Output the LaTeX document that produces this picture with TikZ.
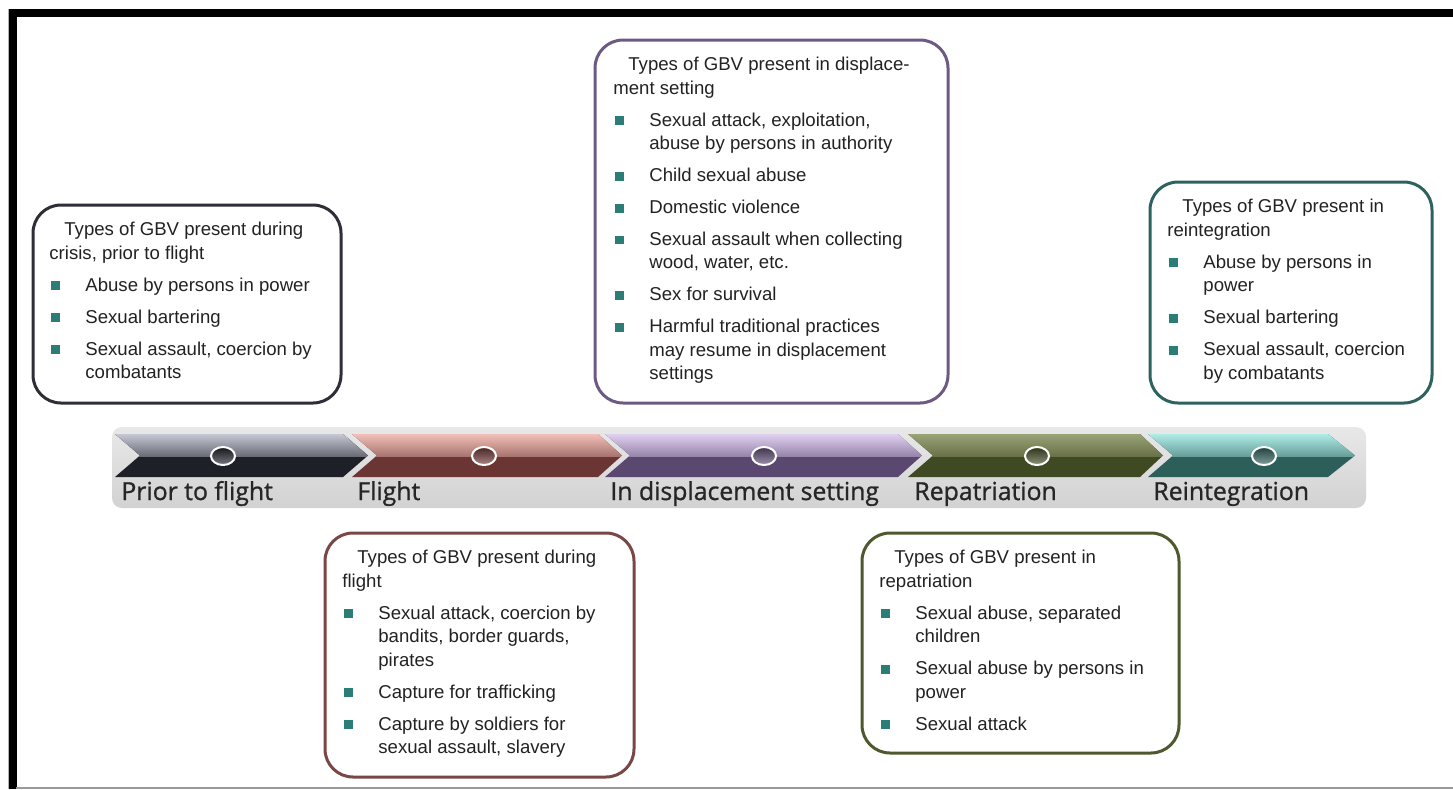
\documentclass[tikz,border=0pt]{standalone}
\usepackage{fontspec}
\setmainfont{Liberation Sans}
\newfontfamily\labfont[FakeBold=1]{Open Sans}
\usetikzlibrary{shapes.geometric}
\definecolor{bA}{HTML}{2E2E38}
\definecolor{bB}{HTML}{7A4646}
\definecolor{bC}{HTML}{6C5A82}
\definecolor{bD}{HTML}{4E5A2E}
\definecolor{bE}{HTML}{2E625E}
\definecolor{txt}{HTML}{222222}
\definecolor{bulc}{HTML}{2B7D78}
\definecolor{lA}{HTML}{C5C8D4}\definecolor{dA}{HTML}{1E2028}
\definecolor{lB}{HTML}{F2C0B8}\definecolor{dB}{HTML}{6B3533}
\definecolor{lC}{HTML}{E0D0F0}\definecolor{dC}{HTML}{5A4870}
\definecolor{lD}{HTML}{9AA276}\definecolor{dD}{HTML}{3F4A22}
\definecolor{lE}{HTML}{B0ECE6}\definecolor{dE}{HTML}{2C5E5A}
\definecolor{tlA}{HTML}{E8E8E8}\definecolor{tlB}{HTML}{D2D2D2}
\newcommand\bul{\hspace*{0.8pt}\textcolor{bulc}{\rule[0.5pt]{4.4pt}{4.4pt}}\hspace*{12.8pt}}
\newcommand\ind{\hspace*{18pt}}
\newcommand\chev[5]{%
  \fill[#5] (#1,434) -- (#2,434) -- (#3,455.5) -- (#2,477) -- (#1,477) -- (#1+25,455.5) -- cycle;
  \begin{scope}
    \clip (#1,434) -- (#2,434) -- (#3,455.5) -- (#2,477) -- (#1,477) -- (#1+25,455.5) -- cycle;
    \shade[top color=#4, bottom color=#4!45!#5] (#1-5,434) rectangle (#3+5,456);
  \end{scope}}
\tikzset{
  gbox/.style={draw=#1, line width=1.5pt, rounded corners=14pt, inner sep=0pt},
  btxt/.style={anchor=north west, inner sep=0pt, align=left, text=txt,
    font=\fontsize{9.3}{11.75}\selectfont},
  lab/.style={anchor=base west, inner sep=0pt, text=black!85,
    font=\labfont\fontsize{12.4}{14}\selectfont},
  dot/.style={ellipse, draw=white, line width=1pt, minimum width=12pt,
    minimum height=9pt, inner sep=0pt, top color=#1!70!black, bottom color=#1!60!white}
}
\begin{document}
\begin{tikzpicture}[x=0.5pt,y=-0.5pt]
\useasboundingbox (0,0) rectangle (1453,789);
\fill[white] (0,0) rectangle (1453,789);
% frame
\draw[gray!60, line width=0.5pt] (8.3,9) -- (8.3,789);
\draw[black, line width=3.8pt] (1453,12.8) -- (12.8,12.8) -- (12.8,789);
\draw[gray!80, line width=0.6pt] (16,788) -- (1453,788);

% timeline
\shade[top color=tlA, bottom color=tlB, rounded corners=5pt] (112,427) rectangle (1366,508);
\chev{115}{343}{368}{lA}{dA}
\chev{352}{598}{622}{lB}{dB}
\chev{605}{898}{922}{lC}{dC}
\chev{908}{1140}{1163}{lD}{dD}
\chev{1148}{1328}{1355}{lE}{dE}
\node[dot=dA] (o1) at (223,456) {};
\node[dot=dB] (o2) at (484,456) {};
\node[dot=dC] (o3) at (764,456) {};
\node[dot=dD] (o4) at (1037,456) {};
\node[dot=dE] (o5) at (1264,456) {};
\node[lab] (l1) at (121,500) {Prior to flight};
\node[lab] (l2) at (357,500) {Flight};
\node[lab] (l3) at (610,500) {In displacement setting};
\node[lab] (l4) at (914,500) {Repatriation};
\node[lab] (l5) at (1153,500) {Reintegration};

% boxes
\node[gbox=bA, minimum width=154pt, minimum height=99pt] (b1) at (187,304) {};
\node[gbox=bB, minimum width=154.5pt, minimum height=122pt] (b2) at (479.5,655) {};
\node[gbox=bC, minimum width=176.5pt, minimum height=181.5pt] (b3) at (771.5,221.5) {};
\node[gbox=bD, minimum width=158.5pt, minimum height=110pt] (b4) at (1020.5,643) {};
\node[gbox=bE, minimum width=141pt, minimum height=110.5pt] (b5) at (1291,292.5) {};

\node[btxt] (t1) at (49,222) {\hspace*{7.5pt}Types of GBV present during\\
crisis, prior to flight\\[4.2pt]
\bul Abuse by persons in power\\[4.2pt]
\bul Sexual bartering\\[4.2pt]
\bul Sexual assault, coercion by\\
\ind combatants};

\node[btxt] (t3) at (613,57) {\hspace*{7.5pt}Types of GBV present in displace-\\
ment setting\\[4.2pt]
\bul Sexual attack, exploitation,\\
\ind abuse by persons in authority\\[4.2pt]
\bul Child sexual abuse\\[4.2pt]
\bul Domestic violence\\[4.2pt]
\bul Sexual assault when collecting\\
\ind wood, water, etc.\\[4.2pt]
\bul Sex for survival\\[4.2pt]
\bul Harmful traditional practices\\
\ind may resume in displacement\\
\ind settings};

\node[btxt] (t5) at (1167,199) {\hspace*{7.5pt}Types of GBV present in\\
reintegration\\[4.2pt]
\bul Abuse by persons in\\
\ind power\\[4.2pt]
\bul Sexual bartering\\[4.2pt]
\bul Sexual assault, coercion\\
\ind by combatants};

\node[btxt] (t2) at (342,550) {\hspace*{7.5pt}Types of GBV present during\\
flight\\[4.2pt]
\bul Sexual attack, coercion by\\
\ind bandits, border guards,\\
\ind pirates\\[4.2pt]
\bul Capture for trafficking\\[4.2pt]
\bul Capture by soldiers for\\
\ind sexual assault, slavery};

\node[btxt] (t4) at (879,550) {\hspace*{7.5pt}Types of GBV present in\\
repatriation\\[4.2pt]
\bul Sexual abuse, separated\\
\ind children\\[4.2pt]
\bul Sexual abuse by persons in\\
\ind power\\[4.2pt]
\bul Sexual attack};
\end{tikzpicture}
\end{document}
